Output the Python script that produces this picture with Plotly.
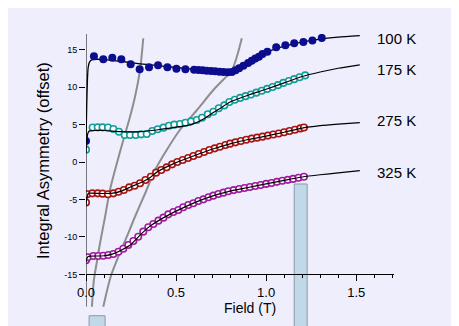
import plotly.graph_objects as go

# ---------------- data ----------------
x100 = [0.0, 0.044, 0.096, 0.146, 0.196, 0.248, 0.298, 0.35, 0.40, 0.452, 0.502, 0.552,
        0.60, 0.625, 0.648, 0.67, 0.694, 0.717, 0.74, 0.763, 0.787, 0.81, 0.83, 0.85,
        0.874, 0.90, 0.92, 0.94, 0.96, 0.98, 1.007, 1.056, 1.107, 1.156, 1.207, 1.257, 1.309]
y100 = [2.8, 14.1, 13.7, 13.9, 13.7, 13.05, 12.36, 12.63, 12.9, 12.63, 12.44, 12.36,
        12.31, 12.27, 12.23, 12.17, 12.13, 12.09, 12.04, 12.0, 11.96, 12.0, 12.25, 12.5,
        12.84, 13.2, 13.5, 13.8, 14.05, 14.4, 14.71, 15.29, 15.56, 15.82, 16.0, 16.2, 16.55]
fx100 = [0, 0.004, 0.008, 0.012, 0.02, 0.035, 0.06, 0.1, 0.2, 0.3, 0.4, 0.5, 0.6, 0.7,
         0.8, 0.85, 0.9, 0.95, 1.0, 1.1, 1.2, 1.3, 1.4, 1.52]
fy100 = [2.8, 7.5, 11.0, 12.6, 13.35, 13.65, 13.7, 13.65, 13.4, 13.1, 12.85, 12.6, 12.35,
         12.15, 12.0, 12.5, 13.2, 13.95, 14.6, 15.45, 16.0, 16.4, 16.65, 16.85]

x175 = [0.0, 0.037, 0.065, 0.092, 0.122, 0.152, 0.183, 0.215, 0.244, 0.276, 0.306, 0.337,
        0.368, 0.398, 0.43, 0.46, 0.49, 0.522, 0.552, 0.583, 0.615, 0.644, 0.676, 0.707,
        0.737, 0.768, 0.796, 0.826, 0.856, 0.886, 0.916, 0.946, 0.976, 1.006, 1.036, 1.066,
        1.096, 1.126, 1.156, 1.186, 1.217]
y175 = [1.65, 4.6, 4.62, 4.62, 4.6, 4.4, 4.04, 3.6, 3.6, 3.6, 3.69, 3.73, 4.13, 4.36, 4.58,
        4.84, 4.98, 5.07, 5.24, 5.42, 5.6, 5.91, 6.36, 6.71, 7.16, 7.55, 8.0, 8.3, 8.55, 8.78,
        9.0, 9.25, 9.5, 9.75, 10.0, 10.25, 10.55, 10.8, 11.05, 11.3, 11.55]
fx175 = [0, 0.005, 0.01, 0.02, 0.05, 0.1, 0.2, 0.3, 0.4, 0.5, 0.58, 0.65, 0.7, 0.75, 0.8,
         0.9, 1.0, 1.1, 1.2, 1.3, 1.4, 1.52]
fy175 = [1.2, 2.8, 3.8, 4.15, 4.2, 4.2, 4.05, 4.05, 4.3, 4.65, 4.95, 5.7, 6.5, 7.25, 8.0,
         8.9, 9.7, 10.55, 11.4, 12.0, 12.5, 12.95]

x275 = [0.0, 0.007, 0.035, 0.065, 0.092, 0.122, 0.152, 0.181, 0.21, 0.24, 0.27, 0.3, 0.33,
        0.36, 0.389, 0.418, 0.448, 0.478, 0.507, 0.537, 0.567, 0.596, 0.626, 0.656, 0.685,
        0.715, 0.744, 0.774, 0.8, 0.83, 0.86, 0.89, 0.92, 0.95, 0.98, 1.01, 1.04, 1.07, 1.1,
        1.13, 1.16, 1.19, 1.21]
y275 = [-5.4, -4.3, -4.18, -4.18, -4.22, -4.31, -4.18, -3.96, -3.73, -3.38, -3.16, -2.84,
        -2.4, -1.96, -1.42, -1.07, -0.71, -0.31, 0.0, 0.27, 0.53, 0.8, 1.07, 1.33, 1.6, 1.82,
        2.04, 2.27, 2.45, 2.62, 2.8, 2.97, 3.12, 3.25, 3.38, 3.52, 3.66, 3.8, 3.97, 4.14, 4.3,
        4.48, 4.6]
fx275 = [0, 0.005, 0.012, 0.03, 0.1, 0.15, 0.2, 0.25, 0.3, 0.35, 0.4, 0.5, 0.6, 0.7, 0.8,
         0.9, 1.0, 1.1, 1.2, 1.3, 1.4, 1.52]
fy275 = [-5.8, -4.8, -4.2, -4.15, -4.2, -4.15, -3.85, -3.3, -2.8, -2.15, -1.25, -0.08, 0.83,
         1.7, 2.42, 3.0, 3.45, 3.97, 4.52, 4.85, 5.05, 5.24]

x325 = [0.0, 0.01, 0.041, 0.068, 0.096, 0.124, 0.152, 0.18, 0.207, 0.235, 0.263, 0.29, 0.318,
        0.346, 0.374, 0.402, 0.43, 0.457, 0.485, 0.513, 0.54, 0.568, 0.596, 0.624, 0.652,
        0.68, 0.707, 0.735, 0.763, 0.79, 0.82, 0.85, 0.88, 0.91, 0.94, 0.97, 1.0, 1.03, 1.06,
        1.09, 1.12, 1.15, 1.18, 1.21]
y325 = [-13.1, -12.7, -12.53, -12.53, -12.5, -12.4, -12.27, -11.96, -11.56, -11.07, -10.53,
        -9.96, -9.29, -8.71, -8.27, -7.82, -7.42, -6.98, -6.67, -6.4, -6.04, -5.73, -5.51,
        -5.2, -4.98, -4.71, -4.49, -4.27, -4.09, -3.91, -3.75, -3.6, -3.47, -3.34, -3.2,
        -3.06, -2.92, -2.8, -2.65, -2.5, -2.38, -2.25, -2.1, -1.97]
fx325 = [0, 0.005, 0.012, 0.03, 0.1, 0.15, 0.2, 0.25, 0.3, 0.35, 0.4, 0.5, 0.6, 0.7, 0.8,
         0.9, 1.0, 1.1, 1.2, 1.3, 1.4, 1.52]
fy325 = [-13.3, -12.9, -12.6, -12.55, -12.5, -12.25, -11.7, -11.0, -9.75, -8.65, -7.85,
         -6.55, -5.45, -4.55, -3.88, -3.4, -2.92, -2.45, -2.0, -1.7, -1.45, -1.16]

a_par_x = [0.033, 0.044, 0.059, 0.078, 0.106, 0.133, 0.171, 0.207, 0.244, 0.272, 0.3, 0.318]
a_par_y = [-19.3, -15.7, -13.5, -10.8, -7.3, -3.7, -0.2, 2.9, 6.0, 8.7, 12.3, 16.5]
a_perp_x = [0.096, 0.137, 0.18, 0.226, 0.272, 0.328, 0.383, 0.448, 0.522, 0.615, 0.707,
            0.763, 0.809, 0.837, 0.865]
a_perp_y = [-19.3, -15.3, -12.6, -10.0, -7.3, -4.2, -1.1, 1.6, 4.3, 6.9, 9.6, 11.0, 12.2,
            14.0, 16.5]

bar_x = [0.0615, 1.192]
bar_width = [0.089, 0.072]
bar_top = [-20.5, -2.93]

series_names = ["100 K", "175 K", "275 K", "325 K"]
y_ticks = [-15, -10, -5, 0, 5, 10, 15]
x_ticks = [0.0, 0.5, 1.0, 1.5]

# ---------------- style ----------------
FONT = "Liberation Sans, Arial, sans-serif"
BG = "#eeeefc"
Y_RANGE = [-21.87, 17.07]
X_RANGE = [0, 1.71]
X_AXIS_AT = -15
Y_AXIS_LOW = -19.3
BAR_BASE = -30

fig = go.Figure()

fig.add_trace(go.Bar(x=bar_x, y=[t - BAR_BASE for t in bar_top], base=BAR_BASE,
                     width=bar_width, marker=dict(color="#c0d8e8",
                     line=dict(color="#8a9aa8", width=1)), showlegend=False))

for ax_, ay_ in [(a_par_x, a_par_y), (a_perp_x, a_perp_y)]:
    fig.add_trace(go.Scatter(x=ax_, y=ay_, mode="lines", line=dict(color="#8e8e8e", width=2,
                             shape="spline", smoothing=0.8), showlegend=False))

# 100 K: fit below filled dots
fig.add_trace(go.Scatter(x=fx100, y=fy100, mode="lines",
                         line=dict(color="black", width=1.3, shape="spline", smoothing=0.6),
                         showlegend=False))
fig.add_trace(go.Scatter(x=x100, y=y100, mode="markers", name=series_names[0],
                         marker=dict(color="#0c0c8e", size=8, line=dict(width=0)),
                         showlegend=False))

open_series = [(x175, y175, fx175, fy175, "#149c9c"),
               (x275, y275, fx275, fy275, "#a81212"),
               (x325, y325, fx325, fy325, "#a01a9e")]
for i, (xs, ys, fxs, fys, col) in enumerate(open_series):
    fig.add_trace(go.Scatter(x=xs, y=ys, mode="markers", name=series_names[i + 1],
                             marker=dict(symbol="circle", color="white", size=6.5,
                                         line=dict(color=col, width=1.6)),
                             showlegend=False))
    fig.add_trace(go.Scatter(x=fxs, y=fys, mode="lines",
                             line=dict(color="black", width=1.2, shape="spline", smoothing=0.6),
                             showlegend=False))

# series labels at the end of each fit
label_y = [16.5, 12.27, 5.5, -1.37]
annotations = []
for name, ly in zip(series_names, label_y):
    annotations.append(dict(x=1.606, y=ly, xref="x", yref="y", text=name, showarrow=False,
                            xanchor="left", yanchor="middle",
                            font=dict(family=FONT, size=15, color="black")))
annotations.append(dict(x=0.328, y=18.3, xref="x", yref="y",
                        text="&lt;A<sub>||</sub>&gt;", showarrow=False,
                        xanchor="center", yanchor="middle",
                        font=dict(family=FONT, size=16, color="black")))
annotations.append(dict(x=0.895, y=18.3, xref="x", yref="y",
                        text="&lt;A<sub>⊥</sub> &gt;", showarrow=False,
                        xanchor="center", yanchor="middle",
                        font=dict(family=FONT, size=16, color="black")))
annotations.append(dict(x=0.91, y=-19.5, xref="x", yref="y", text="Field (T)",
                        showarrow=False, xanchor="center", yanchor="middle",
                        font=dict(family=FONT, size=14, color="black")))
annotations.append(dict(x=0, xshift=-43, y=0.565, xref="paper", yref="paper",
                        text="Integral Asymmetry (offset)", textangle=-90,
                        showarrow=False, xanchor="center", yanchor="middle",
                        font=dict(family=FONT, size=16.5, color="black")))

pos = (X_AXIS_AT - Y_RANGE[0]) / (Y_RANGE[1] - Y_RANGE[0])

# the page body adds an 8 px offset, so the figure is shrunk by that amount
fig.update_layout(
    width=451, height=318,
    margin=dict(l=78, r=65, t=26, b=0),
    paper_bgcolor=BG, plot_bgcolor=BG,
    showlegend=False,
    annotations=annotations,
    xaxis=dict(range=X_RANGE, anchor="free", position=pos, showline=True,
               linecolor="black", linewidth=1, showgrid=False, zeroline=False,
               tickvals=x_ticks, tickformat=".1f", ticks="outside", ticklen=6,
               tickcolor="black", tickfont=dict(family=FONT, size=13, color="black"),
               minor=dict(dtick=0.1, tick0=0, ticks="outside", ticklen=3,
                          tickcolor="black", showgrid=False)),
    yaxis=dict(range=Y_RANGE, showline=False, showgrid=False, zeroline=False,
               tickvals=y_ticks, ticktext=[str(v) for v in y_ticks], ticks="outside",
               ticklen=6, tickcolor="black",
               tickfont=dict(family=FONT, size=9, color="black")),
    shapes=[
        dict(type="line", xref="x", yref="y", x0=0, x1=0, y0=Y_AXIS_LOW, y1=Y_RANGE[1],
             line=dict(color="black", width=1), layer="above"),
    ],
)

fig.write_html("out.html")
